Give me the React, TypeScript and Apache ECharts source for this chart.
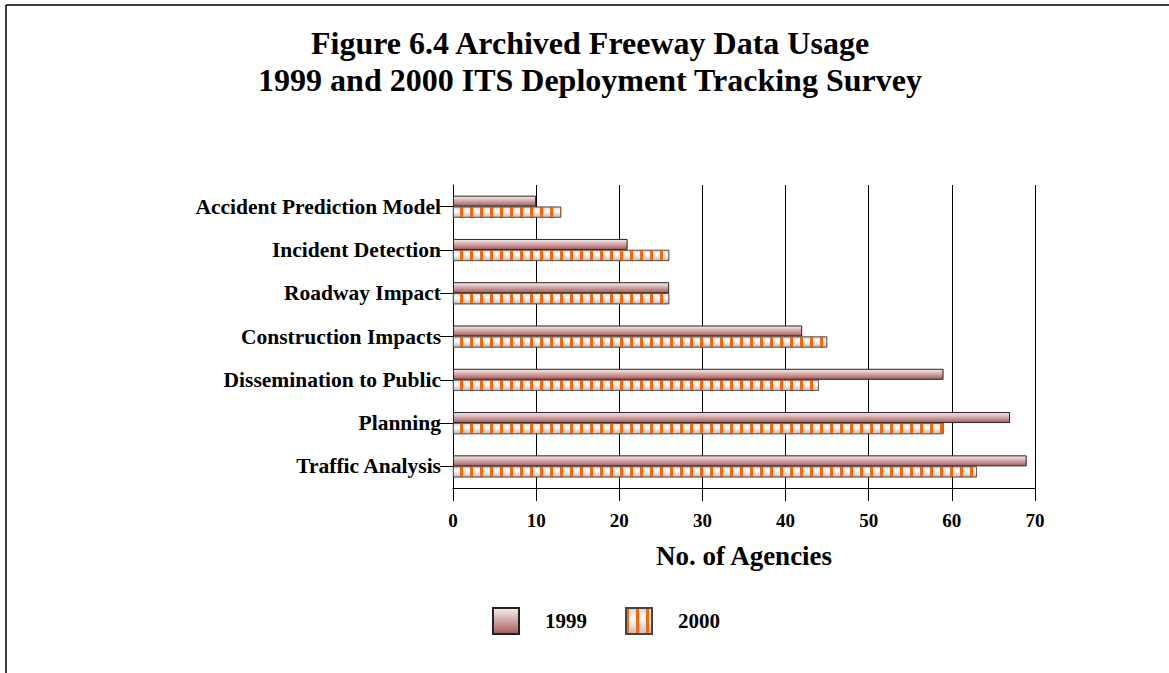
import React, { useEffect, useRef } from "react";
import * as echarts from "echarts";

const categories = [
  "Traffic Analysis",
  "Planning",
  "Dissemination to Public",
  "Construction Impacts",
  "Roadway Impact",
  "Incident Detection",
  "Accident Prediction Model",
];
const values1999 = [69, 67, 59, 42, 26, 21, 10];
const values2000 = [63, 59, 44, 45, 26, 26, 13];
const xTicks = [0, 10, 20, 30, 40, 50, 60, 70];
const titleLines = [
  "Figure 6.4 Archived Freeway Data Usage",
  "1999 and 2000 ITS Deployment Tracking Survey",
];

const FONT = "'Liberation Serif', 'Times New Roman', serif";

export default function App() {
  const ref = useRef<HTMLDivElement>(null);
  useEffect(() => {
    if (!ref.current) return;
    const chart = echarts.init(ref.current, undefined, { renderer: "svg" });
    const grad1999 = new echarts.graphic.LinearGradient(0, 0, 0, 1, [
      { offset: 0, color: "#f8eeee" },
      { offset: 1, color: "#a85a5a" },
    ]);
    const grad2000 = new echarts.graphic.LinearGradient(0, 0, 0, 1, [
      { offset: 0, color: "#d6d6d6" },
      { offset: 0.4, color: "#ffffff" },
      { offset: 1, color: "#bdbdbd" },
    ]);
    chart.setOption({
      animation: false,
      backgroundColor: "#ffffff",
      textStyle: { fontFamily: FONT },
      graphic: [
        {
          type: "line",
          shape: { x1: 6, y1: 5, x2: 1169, y2: 5 },
          style: { stroke: "#000", lineWidth: 1.5 },
        },
        {
          type: "line",
          shape: { x1: 6, y1: 5, x2: 6, y2: 673 },
          style: { stroke: "#000", lineWidth: 1.5 },
        },
        ...titleLines.map((t, i) => ({
          type: "text",
          x: 590,
          y: 43 + i * 37,
          style: {
            text: t,
            font: `bold 32px ${FONT}`,
            fill: "#000",
            textAlign: "center",
            textVerticalAlign: "middle",
          },
        })),
      ],
      legend: {
        left: 492,
        top: 607,
        padding: 0,
        icon: "rect",
        itemWidth: 26,
        itemHeight: 26,
        itemGap: 38,
        data: ["1999", "2000"],
        textStyle: {
          fontFamily: FONT,
          fontWeight: "bold",
          fontSize: 21,
          color: "#000",
          padding: [0, 0, 0, 21],
        },
      },
      grid: { left: 453, right: 134, top: 185, bottom: 185 },
      xAxis: {
        type: "value",
        min: 0,
        max: 70,
        interval: 10,
        name: "No. of Agencies",
        nameLocation: "middle",
        nameGap: 54,
        nameTextStyle: { fontFamily: FONT, fontWeight: "bold", fontSize: 27, color: "#000" },
        axisLine: { show: true, lineStyle: { color: "#000", width: 1 } },
        axisTick: { show: true, length: 13, lineStyle: { color: "#000" } },
        axisLabel: {
          margin: 23,
          fontFamily: FONT,
          fontWeight: "bold",
          fontSize: 19,
          color: "#000",
          formatter: (v: number) => (xTicks.includes(v) ? String(v) : ""),
        },
        splitLine: { show: true, lineStyle: { color: "#000", width: 1 } },
      },
      yAxis: {
        type: "category",
        data: categories,
        axisLine: { show: true, lineStyle: { color: "#000", width: 1 } },
        axisTick: { show: true, alignWithLabel: true, length: 13, lineStyle: { color: "#000" } },
        axisLabel: {
          margin: 12,
          fontFamily: FONT,
          fontWeight: "bold",
          fontSize: 21.5,
          color: "#000",
        },
      },
      series: [
        {
          name: "1999",
          type: "bar",
          data: values1999,
          barWidth: 11,
          barGap: "0%",
          itemStyle: { color: grad1999, borderColor: "#222", borderWidth: 1 },
        },
        {
          name: "2000",
          type: "bar",
          data: values2000,
          barWidth: 11,
          itemStyle: {
            color: grad2000,
            borderColor: "#444",
            borderWidth: 0.6,
            decal: {
              symbol: "rect",
              symbolSize: 1,
              color: "#ff6600",
              dashArrayX: [3, 7],
              dashArrayY: [1, 0],
            },
          },
        },
      ],
    });
    return () => chart.dispose();
  }, []);
  return (
    <div
      ref={ref}
      style={{ position: "absolute", left: 0, top: 0, width: 1169, height: 673 }}
    />
  );
}
